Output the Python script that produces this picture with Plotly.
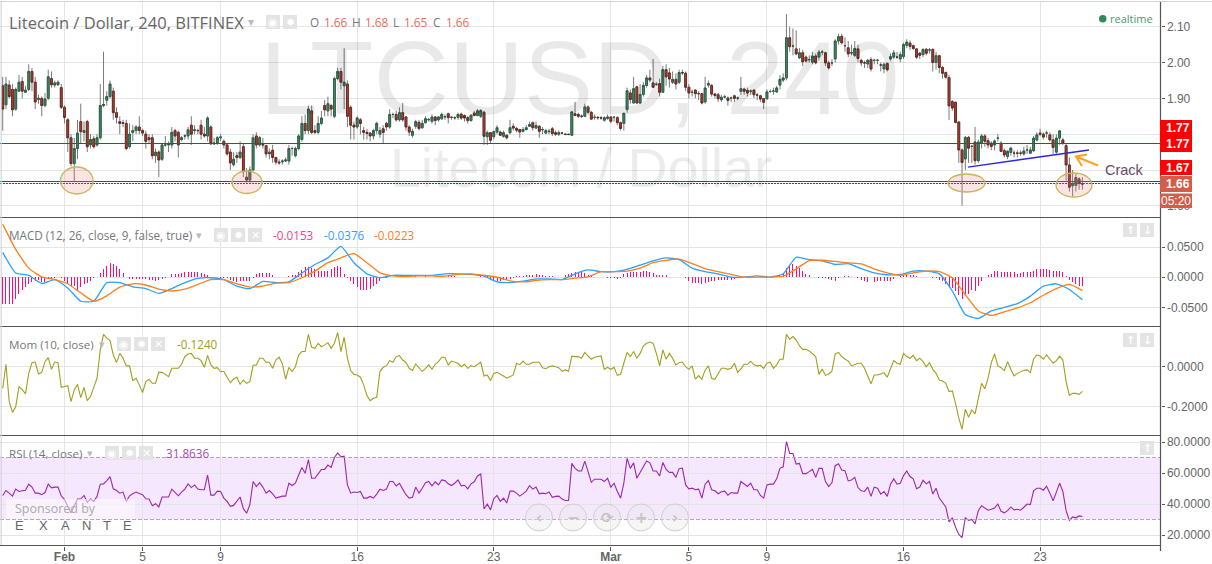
import pandas as pd
import plotly.graph_objects as go

W, H = 1212, 564

dates = pd.date_range("2015-01-28 20:00", periods=333, freq="4h").strftime("%Y-%m-%d %H:%M").tolist()

opens = [
1.935,1.882,1.937,1.925,1.870,1.920,1.947,1.917,1.925,1.975,
1.945,1.897,1.900,1.880,1.900,1.955,1.937,1.938,1.930,1.875,
1.840,1.790,1.718,1.760,1.835,1.805,1.835,1.770,1.787,1.770,
1.790,1.880,1.895,1.905,1.920,1.860,1.835,1.832,1.830,1.765,
1.805,1.810,1.820,1.810,1.800,1.790,1.790,1.740,1.750,1.730,
1.770,1.770,1.770,1.810,1.805,1.785,1.795,1.795,1.825,1.810,
1.810,1.825,1.800,1.795,1.820,1.773,1.775,1.790,1.780,1.770,
1.750,1.715,1.740,1.735,1.765,1.680,1.672,1.700,1.795,1.770,
1.772,1.768,1.745,1.755,1.735,1.722,1.723,1.725,1.725,1.760,
1.740,1.760,1.785,1.830,1.810,1.865,1.810,1.805,1.830,1.880,
1.865,1.880,1.850,1.955,1.975,1.935,1.940,1.875,1.825,1.820,
1.840,1.810,1.805,1.803,1.795,1.810,1.800,1.815,1.830,1.820,
1.855,1.855,1.840,1.860,1.848,1.820,1.797,1.822,1.833,1.818,
1.832,1.840,1.836,1.848,1.840,1.843,1.848,1.857,1.847,1.846,
1.847,1.856,1.852,1.846,1.838,1.859,1.852,1.850,1.861,1.793,
1.804,1.793,1.806,1.806,1.794,1.797,1.804,1.822,1.816,1.813,
1.808,1.813,1.822,1.832,1.817,1.822,1.812,1.803,1.807,1.815,
1.804,1.800,1.803,1.800,1.800,1.797,1.857,1.855,1.850,1.850,
1.876,1.861,1.847,1.847,1.846,1.839,1.844,1.848,1.847,1.846,
1.832,1.830,1.869,1.915,1.887,1.932,1.887,1.911,1.936,1.957,
1.943,1.939,1.941,1.917,1.980,1.971,1.945,1.953,1.945,1.972,
1.970,1.931,1.917,1.923,1.913,1.913,1.890,1.937,1.936,1.912,
1.910,1.896,1.904,1.901,1.901,1.907,1.901,1.919,1.926,1.922,
1.920,1.923,1.909,1.907,1.899,1.899,1.919,1.920,1.918,1.937,
1.951,1.957,2.069,2.046,2.038,2.013,2.027,2.015,2.008,2.001,
2.018,2.015,2.029,2.027,1.999,1.999,2.010,2.060,2.073,2.047,
2.041,2.027,2.020,2.038,2.006,1.999,1.996,2.008,2.006,2.006,
1.993,1.982,1.997,2.010,2.015,2.015,2.010,2.017,2.048,2.054,
2.047,2.038,2.026,2.022,2.037,2.035,2.036,2.000,2.019,1.986,
1.972,1.958,1.891,1.889,1.834,1.756,1.731,1.791,1.766,1.778,
1.726,1.775,1.795,1.782,1.775,1.770,1.789,1.775,1.754,1.738,
1.749,1.747,1.747,1.747,1.745,1.756,1.747,1.754,1.784,1.803,
1.800,1.803,1.798,1.784,1.750,1.789,1.784,1.768,1.714,1.656,
1.657,1.675,1.661]

closes = [
1.870,1.940,1.905,1.868,1.925,1.945,1.920,1.923,1.975,1.945,
1.890,1.900,1.880,1.898,1.960,1.938,1.943,1.945,1.875,1.847,
1.790,1.718,1.760,1.803,1.807,1.810,1.765,1.785,1.765,1.790,
1.880,1.883,1.905,1.940,1.860,1.847,1.830,1.830,1.760,1.800,
1.810,1.820,1.810,1.803,1.780,1.785,1.740,1.750,1.728,1.770,
1.770,1.772,1.805,1.795,1.770,1.790,1.795,1.812,1.800,1.812,
1.810,1.800,1.795,1.845,1.773,1.775,1.790,1.792,1.770,1.745,
1.720,1.730,1.735,1.750,1.695,1.672,1.700,1.790,1.770,1.790,
1.770,1.745,1.750,1.735,1.722,1.720,1.725,1.728,1.760,1.760,
1.760,1.795,1.830,1.810,1.870,1.805,1.805,1.830,1.845,1.868,
1.885,1.870,1.955,1.975,1.945,1.945,1.850,1.825,1.820,1.845,
1.830,1.805,1.802,1.795,1.810,1.830,1.810,1.805,1.820,1.855,
1.855,1.840,1.860,1.840,1.820,1.806,1.808,1.835,1.816,1.830,
1.843,1.841,1.848,1.838,1.848,1.855,1.849,1.846,1.847,1.846,
1.855,1.845,1.845,1.838,1.853,1.852,1.865,1.866,1.794,1.804,
1.783,1.807,1.818,1.797,1.804,1.790,1.818,1.817,1.811,1.806,
1.813,1.818,1.827,1.818,1.824,1.808,1.813,1.810,1.808,1.802,
1.800,1.804,1.803,1.799,1.799,1.862,1.852,1.850,1.850,1.876,
1.861,1.842,1.847,1.846,1.845,1.846,1.848,1.836,1.847,1.832,
1.816,1.858,1.921,1.897,1.927,1.887,1.911,1.936,1.957,1.951,
1.931,1.939,1.917,1.980,1.960,1.954,1.953,1.940,1.972,1.971,
1.931,1.915,1.917,1.913,1.913,1.887,1.929,1.941,1.912,1.908,
1.899,1.903,1.904,1.894,1.901,1.900,1.901,1.927,1.920,1.915,
1.920,1.910,1.909,1.898,1.889,1.918,1.919,1.920,1.929,1.953,
1.957,2.069,2.044,2.046,2.024,2.027,2.002,2.004,2.008,2.018,
1.999,2.029,2.029,1.999,1.985,1.999,2.060,2.072,2.055,2.047,
2.024,2.027,2.039,2.011,1.999,1.999,2.006,1.982,2.006,2.006,
1.993,1.995,1.980,2.016,2.027,2.015,2.022,2.050,2.057,2.045,
2.039,2.015,2.020,2.036,2.026,2.035,2.000,2.019,1.986,1.970,
1.959,1.879,1.873,1.833,1.756,1.721,1.791,1.761,1.766,1.726,
1.778,1.795,1.780,1.770,1.766,1.781,1.789,1.752,1.742,1.752,
1.761,1.747,1.747,1.747,1.753,1.756,1.756,1.789,1.798,1.800,
1.792,1.803,1.784,1.763,1.789,1.809,1.775,1.714,1.652,1.663,
1.679,1.663,1.661]

highs = [
1.960,1.960,1.950,1.940,1.930,1.965,1.960,1.935,1.995,1.985,
1.960,1.910,1.905,1.915,1.980,1.975,1.950,1.950,1.940,1.880,
1.845,1.800,1.790,1.840,1.885,1.835,1.840,1.800,1.795,1.800,
1.940,2.030,1.920,1.950,1.930,1.875,1.850,1.840,1.840,1.830,
1.825,1.825,1.850,1.815,1.810,1.800,1.800,1.760,1.755,1.775,
1.795,1.780,1.820,1.815,1.810,1.795,1.800,1.820,1.850,1.825,
1.815,1.840,1.820,1.850,1.825,1.790,1.795,1.800,1.785,1.775,
1.760,1.750,1.750,1.780,1.775,1.705,1.710,1.800,1.805,1.795,
1.790,1.770,1.760,1.770,1.735,1.730,1.730,1.735,1.770,1.765,
1.765,1.800,1.850,1.855,1.880,1.880,1.825,1.850,1.865,1.895,
1.905,1.885,1.960,1.985,1.985,2.040,1.950,1.880,1.835,1.850,
1.845,1.820,1.815,1.805,1.815,1.835,1.820,1.825,1.835,1.870,
1.860,1.865,1.875,1.887,1.850,1.825,1.815,1.840,1.840,1.840,
1.850,1.845,1.855,1.850,1.850,1.860,1.855,1.860,1.850,1.850,
1.860,1.860,1.855,1.850,1.855,1.865,1.870,1.870,1.865,1.810,
1.806,1.810,1.825,1.810,1.810,1.800,1.840,1.830,1.820,1.815,
1.820,1.825,1.835,1.835,1.835,1.825,1.820,1.815,1.815,1.820,
1.810,1.810,1.805,1.803,1.800,1.865,1.890,1.860,1.855,1.885,
1.880,1.865,1.855,1.850,1.850,1.850,1.855,1.850,1.850,1.850,
1.835,1.860,1.930,1.925,1.960,1.935,1.940,1.945,1.965,1.980,
2.010,1.945,1.955,1.990,1.995,1.985,1.975,1.970,1.980,1.980,
1.975,1.940,1.925,1.925,1.920,1.915,1.960,1.950,1.940,1.915,
1.915,1.910,1.910,1.905,1.905,1.910,1.905,1.960,1.930,1.930,
1.925,1.925,1.915,1.910,1.900,1.925,1.925,1.930,1.935,1.965,
1.970,2.135,2.100,2.095,2.090,2.040,2.035,2.020,2.020,2.030,
2.025,2.035,2.035,2.030,2.005,2.010,2.065,2.080,2.080,2.070,
2.060,2.050,2.060,2.050,2.010,2.005,2.010,2.015,2.010,2.010,
2.000,2.000,2.000,2.025,2.035,2.030,2.030,2.055,2.065,2.062,
2.050,2.040,2.030,2.040,2.040,2.040,2.040,2.030,2.020,1.990,
1.975,1.965,1.895,1.890,1.835,1.760,1.795,1.795,1.770,1.820,
1.785,1.800,1.800,1.790,1.780,1.785,1.800,1.780,1.760,1.755,
1.765,1.755,1.755,1.755,1.765,1.770,1.765,1.795,1.805,1.815,
1.805,1.810,1.805,1.800,1.800,1.812,1.790,1.775,1.735,1.700,
1.690,1.680,1.680]

lows = [
1.810,1.870,1.900,1.850,1.865,1.920,1.900,1.915,1.920,1.920,
1.870,1.885,1.850,1.875,1.895,1.930,1.930,1.935,1.870,1.830,
1.750,1.710,1.668,1.730,1.775,1.780,1.750,1.760,1.760,1.765,
1.785,1.875,1.880,1.900,1.840,1.830,1.800,1.820,1.755,1.760,
1.780,1.800,1.800,1.795,1.760,1.775,1.730,1.720,1.680,1.725,
1.765,1.750,1.760,1.780,1.735,1.780,1.785,1.785,1.770,1.800,
1.800,1.785,1.790,1.780,1.770,1.770,1.770,1.780,1.760,1.740,
1.700,1.710,1.720,1.730,1.680,1.665,1.665,1.700,1.760,1.765,
1.760,1.735,1.730,1.720,1.715,1.715,1.715,1.722,1.715,1.740,
1.735,1.755,1.780,1.800,1.800,1.800,1.800,1.800,1.825,1.850,
1.850,1.850,1.845,1.950,1.925,1.870,1.820,1.785,1.785,1.815,
1.800,1.785,1.785,1.780,1.785,1.800,1.790,1.775,1.810,1.815,
1.845,1.835,1.835,1.835,1.810,1.795,1.790,1.815,1.810,1.815,
1.830,1.835,1.830,1.825,1.835,1.840,1.840,1.830,1.840,1.840,
1.840,1.840,1.835,1.830,1.835,1.850,1.850,1.845,1.770,1.770,
1.775,1.785,1.800,1.795,1.790,1.785,1.800,1.810,1.805,1.790,
1.805,1.810,1.820,1.810,1.815,1.790,1.800,1.800,1.800,1.795,
1.795,1.795,1.800,1.797,1.797,1.795,1.850,1.845,1.845,1.848,
1.855,1.840,1.840,1.840,1.840,1.835,1.840,1.830,1.835,1.825,
1.810,1.810,1.860,1.885,1.885,1.885,1.885,1.905,1.930,1.945,
1.930,1.935,1.905,1.915,1.935,1.930,1.940,1.925,1.940,1.965,
1.920,1.900,1.905,1.900,1.895,1.883,1.885,1.930,1.905,1.900,
1.890,1.890,1.900,1.880,1.890,1.890,1.895,1.910,1.910,1.905,
1.910,1.900,1.895,1.890,1.870,1.895,1.915,1.910,1.915,1.925,
1.945,1.950,2.030,2.020,2.020,2.010,1.990,2.000,2.000,1.995,
1.995,2.005,2.020,1.990,1.980,1.990,2.000,2.050,2.050,2.030,
2.015,2.020,2.015,2.000,1.990,1.985,1.985,1.975,1.995,1.995,
1.975,1.970,1.975,2.005,2.010,2.010,2.000,2.010,2.040,2.035,
2.035,2.010,2.010,2.015,2.020,2.025,1.975,1.980,1.970,1.955,
1.955,1.840,1.865,1.830,1.720,1.600,1.700,1.720,1.720,1.715,
1.720,1.760,1.765,1.760,1.755,1.755,1.780,1.750,1.735,1.730,
1.740,1.735,1.735,1.740,1.740,1.745,1.745,1.750,1.780,1.795,
1.785,1.790,1.780,1.745,1.745,1.770,1.770,1.670,1.640,1.626,
1.640,1.645,1.645]

price_ticks = [1.6, 1.7, 1.8, 1.9, 2.0, 2.1]
price_levels = [1.77396, 1.6679]
price_dotted = [1.66232]
support_line_prices = [1.708, 1.756]

macd_hist = [
-.044,-.044,-.045,-.045,-.037,-.028,-.022,-.017,-.011,-.008,
-.006,-.004,-.008,-.008,-.003,-.003,-.002,.001,-.002,-.006,
-.011,-.015,-.015,-.023,-.017,-.012,-.010,-.007,-.001,.001,
.007,.014,.019,.023,.021,.018,.014,.007,0,-.003,
-.003,-.003,-.003,-.003,-.003,-.004,-.004,-.006,-.004,-.003,
-.002,0,.006,.006,.006,.007,.008,.009,.009,.009,
.008,.007,.006,.003,.001,.001,.001,-.001,-.002,-.002,
-.004,-.006,-.008,-.007,-.006,-.006,-.007,-.001,.006,.007,
.007,.007,.007,.004,.001,0,0,.001,.002,.003,
.004,.008,.012,.017,.017,.015,.014,.011,.011,.011,
.011,.014,.017,.018,.017,.006,-.002,-.006,-.011,-.017,
-.021,-.022,-.021,-.019,-.015,-.011,-.007,-.001,-.001,0,
.001,.001,.001,.001,.001,.002,.001,.002,.001,.001,
.002,.001,.001,.002,.001,.001,.002,.003,.002,.002,
.001,.001,.001,0,0,0,0,.002,.002,.002,
-.004,-.007,-.007,-.007,-.005,-.004,-.003,-.001,.002,.002,
.002,.003,.003,.003,.005,.003,.003,.002,.002,.002,
0,0,0,.004,.005,.007,.008,.009,.008,.007,
.003,.002,.001,.001,0,0,-.001,-.001,-.002,-.003,
-.002,.005,.007,.009,.008,.008,.009,.011,.011,.008,
.007,.003,.004,.004,.003,.001,.001,0,0,0,
-.002,-.007,-.009,-.009,-.010,-.011,-.009,-.008,-.007,-.006,
-.005,-.005,-.004,-.005,-.005,-.003,-.002,-.001,0,0,
0,0,0,0,0,0,0,0,.001,.003,
.007,.016,.019,.021,.018,.015,.011,.006,.003,.001,
.001,-.001,-.001,-.002,-.003,-.005,-.006,-.002,.001,.002,
.002,.001,0,-.002,-.005,-.007,-.008,-.009,-.008,-.007,
-.007,-.007,-.007,-.007,-.003,0,.003,.004,.004,.004,
.004,.002,.001,.001,0,0,-.001,-.002,-.004,-.007,
-.011,-.015,-.018,-.023,-.030,-.036,-.030,-.028,-.022,-.023,
-.014,-.007,0,.003,.006,.010,.011,.008,.008,.008,
.008,.008,.006,.007,.008,.008,.009,.011,.014,.014,
.014,.014,.012,.010,.010,.010,.008,.002,-.004,-.008,
-.011,-.014,-.0153]

macd_line = [
.041,.007,.003,-.0105,-.004,-.018,-.040,-.040,-.009,-.009,
-.016,-.019,-.027,-.019,-.009,-.002,-.001,-.004,-.015,-.019,
-.007,-.009,-.008,.007,.021,.032,.051,.024,.0055,-.001,
.003,.003,.003,.003,.0055,.0055,.0045,.0016,-.0077,-.009,
-.0066,-.003,-.003,-.004,.0055,.012,.009,.009,.013,.020,
.027,.032,.029,.015,.009,.0055,0,0,.002,0,
.0055,.033,.029,.027,.021,.0225,.014,.007,.004,.0044,
.010,.010,.0055,-.023,-.062,-.0685,-.056,-.050,-.044,-.0315,
-.015,-.011,-.0205,-.0376]

macd_signal = [
.088,.046,.015,.0005,-.004,-.011,-.026,-.040,-.031,-.0165,
-.011,-.013,-.020,-.023,-.020,-.012,-.004,-.004,-.011,-.0165,
-.015,-.010,-.009,-.001,.010,.024,.032,.039,.024,.007,
.002,.001,.002,.002,.0015,.0045,.0055,.003,0,-.006,
-.008,-.0055,-.004,-.004,-.0016,.0005,.009,.009,.010,.015,
.024,.028,.030,.0225,.014,.009,.0045,0,0,0,
.0016,.0137,.0275,.028,.026,.0236,.022,.0137,.007,.003,
.007,.010,.009,-.001,-.029,-.056,-.0635,-.0575,-.051,-.0425,
-.030,-.019,-.012,-.0223]

momentum = [
-.109,.010,-.175,-.228,-.200,-.101,-.114,-.137,-.035,.018,
.021,-.038,-.030,.023,.043,-.015,.021,.018,-.104,-.101,
-.096,-.175,-.117,-.089,-.155,-.104,-.170,-.150,-.101,-.059,
.081,.158,.139,.127,.056,.018,.064,.040,.002,.002,
-.071,-.059,-.092,-.130,-.076,-.064,-.084,-.084,-.030,-.030,
-.040,-.051,-.010,-.010,-.010,.010,.048,.061,.064,.040,
.040,.028,-.005,.054,.007,-.010,-.007,-.026,-.026,-.054,
-.081,-.063,-.054,-.089,-.068,-.084,-.076,.005,.007,.040,
.040,.020,.020,-.010,.031,.045,.012,-.063,-.005,-.026,
-.002,.056,.073,.073,.158,.094,.089,.114,.097,.106,
.117,.089,.114,.167,.073,.144,.040,-.021,-.040,-.043,
-.054,-.092,-.145,-.170,-.158,-.153,-.026,-.005,.003,.028,
.020,.048,.053,.031,.020,-.010,-.021,.012,-.007,-.026,
-.010,.007,-.015,.010,.023,.045,.045,.007,.026,.020,
.015,-.002,.010,-.010,.003,-.002,.007,.020,-.048,-.043,
-.071,-.035,-.030,-.038,-.048,-.059,-.051,-.043,.015,.008,
.026,.010,.010,.020,.020,.020,-.007,-.012,-.002,.002,
-.002,-.007,-.025,-.018,-.025,.050,.048,.048,.040,.069,
.051,.035,.045,.048,
.051,-.015,-.005,-.015,-.005,-.045,-.040,.015,.069,.048,
.073,.040,.064,.101,.114,.120,.114,.064,.002,.081,
.035,.064,.040,.007,.018,.021,-.002,-.015,.002,-.063,
-.046,-.064,-.018,.002,-.059,-.064,-.035,-.010,-.010,-.015,
-.010,.015,-.030,-.013,.010,.010,.025,.007,.002,.005,
-.010,.015,.020,-.010,.007,.035,.035,.158,.134,.147,
.130,.102,.084,.084,.076,.061,.048,-.040,-.013,-.045,
-.038,-.023,.061,.069,.048,.036,.026,.002,.010,.015,
.015,-.010,-.048,-.087,-.043,-.043,-.038,-.031,-.054,-.010,
.028,.015,.010,.064,.048,.040,.054,.028,.040,.023,
-.002,.018,-.015,-.035,-.068,-.073,-.084,-.125,-.122,-.183,
-.257,-.312,-.213,-.252,-.216,-.236,-.167,-.084,-.111,-.059,
.018,.061,.002,-.007,-.021,.023,-.015,-.048,-.035,-.026,
-.020,-.018,-.031,.036,.056,.051,.035,.056,.036,.015,
.028,.050,.031,-.076,-.144,-.134,-.134,-.139,-.124]

rsi = [
45.5,48.7,47,45.1,49.6,48.1,48.5,48.9,52.8,50.9,
47,47,46,47.4,52.8,50.4,50.9,50.9,45.3,42.8,
38.5,34.3,38.9,43.2,43.2,45.5,41.1,43.2,41.7,44.9,
52.8,53,55.1,57.7,49.8,48.7,47,47.7,41.7,45.3,
46.6,47.7,46.8,46,43.4,43.2,38.9,40.2,38.1,44.5,
44.5,44.5,49.6,47.7,45.3,47.7,49.6,53,50.6,52.3,
49.6,49.2,49.2,58.7,45.7,45.7,48.3,48.1,43.8,41.7,
38.5,39.1,41.7,44.5,37,34,39.6,54.5,51.3,53.8,
50.9,47,48.7,46.6,43.8,44.3,45.1,45.1,53.4,51.9,
53.4,58.7,63.6,59.8,68.7,56.6,56.6,59.4,62.3,62.3,
65.1,63.6,70,73,70.4,70.9,52.3,47,47.7,47.4,
48.1,43.8,43.8,44.9,43.8,46.4,49.6,48.7,49.6,54.5,
54.5,51.7,53.4,49.6,46,43.8,44.3,50.9,47,50.2,
53.8,54.5,51.7,54.3,52.3,55.5,55.1,53,51.9,53.4,
55.5,51.7,52.1,49.8,53,54.3,58.1,59.4,36.8,40,
36.2,43.4,45.5,41.7,43.8,40.6,48.3,48.3,47,45.1,
47,48.3,51.9,49.6,50.9,46.6,47,46.6,47.7,44.3,
44.9,45.1,43.2,42.3,42.3,66.2,63,61.3,61.3,67.7,
60.9,54,56,56,56,54.5,56.6,50.9,53.4,48.1,
43.8,53.4,69.4,63,66.6,56.6,60.4,64,67.7,66.6,
61.3,61.3,58.1,66.8,62.3,60.4,60.4,57.2,62.8,63.2,
52.3,49.8,50.2,49.2,49.6,43.8,52.8,55.1,49.2,48.5,
46.6,47.9,48.3,45.7,47.4,47,47,54.5,52.8,51.3,
53.4,49.2,49.2,45.5,43.8,52.3,52.8,52.8,56.2,63,
64,80.2,72.6,72.6,65.7,66.2,59.6,59.6,60.9,62.3,
57.2,63,63,54.5,51.3,53.8,64.7,66,61.9,61.5,
54.9,55.5,57.2,50.6,48.5,48.1,50.9,44.9,50.9,50.2,
46.4,48.1,44.9,52.8,56.2,52.8,53.4,58.3,61.3,57.7,
56.2,49.8,50.9,55.3,53,54.5,46.4,50.2,43.8,40.6,
38.1,28.5,31.1,25.1,20.4,18.3,31.1,29.4,30,27.2,
35.7,38.9,37.4,36,36.6,37.4,40,35.3,34.3,35.7,
38.1,36.2,36.6,36,37.9,40,39.6,48.5,50.2,50.2,
48.9,51.5,47,42.1,47.7,53.4,48.1,35.7,29.4,31.7,
31.1,32.3,31.9]

x_tick_dates = ["2015-02-01","2015-02-05","2015-02-09","2015-02-16","2015-02-23",
                "2015-03-01","2015-03-05","2015-03-09","2015-03-16","2015-03-23"]
x_tick_text = ["<b>Feb</b>","5","9","16","23","<b>Mar</b>","5","9","16","23"]
macd_ticks = [-0.05, 0, 0.05]
macd_tick_text = ["-0.0500","0.0000","0.0500"]
mom_ticks = [-0.2, 0]
mom_tick_text = ["-0.2000","0.0000"]
rsi_ticks = [20, 40, 60, 80]
rsi_tick_text = ["20.0000","40.0000","60.0000","80.0000"]
rsi_band = [30, 70]

for name, arr in dict(o=opens, c=closes, h=highs, l=lows, hist=macd_hist, mom=momentum, rsi=rsi).items():
    assert len(arr) == 333, (name, len(arr))
assert len(macd_line) == len(macd_signal) == 84, (len(macd_line), len(macd_signal))

highs = [max(a, b, c) for a, b, c in zip(highs, opens, closes)]
lows = [min(a, b, c) for a, b, c in zip(lows, opens, closes)]
body_hi = [max(a, b) for a, b in zip(opens, closes)]
body_lo = [min(a, b) for a, b in zip(opens, closes)]

RIGHT = 1160.5
PANES = [2, 217.5, 326.5, 435.5, 545.5]
FONT = "Liberation Sans"
TITLE_FONT = "Open Sans"


def X(px):
    return px / W


def Y(py):
    return 1 - py / H


def lin_range(top_px, bot_px, v1, y1, v2, y2):
    k = (v2 - v1) / (y2 - y1)
    return [v1 + (bot_px - y1) * k, v1 + (top_px - y1) * k]


feb1 = pd.Timestamp("2015-02-01")
bar = pd.Timedelta(hours=4)
PX_PER_BAR = 3.252
x_start = feb1 + bar * ((0 - 64.5) / PX_PER_BAR)
x_end = feb1 + bar * ((RIGHT - 64.5) / PX_PER_BAR)

fig = go.Figure()

UP_F, UP_L = "#3f8f66", "#2a5c45"
DN_F, DN_L = "#c8392b", "#5c2a22"

fig.add_trace(go.Candlestick(
    x=dates, open=opens, high=highs, low=lows, close=closes, yaxis="y",
    increasing=dict(line=dict(color="#7a7a7a", width=1), fillcolor="#7a7a7a"),
    decreasing=dict(line=dict(color="#7a7a7a", width=1), fillcolor="#7a7a7a"),
    hoverinfo="skip", showlegend=False))
fig.add_trace(go.Candlestick(
    x=dates, open=opens, high=body_hi, low=body_lo, close=closes, yaxis="y",
    increasing=dict(line=dict(color=UP_L, width=0.9), fillcolor=UP_F),
    decreasing=dict(line=dict(color=DN_L, width=0.9), fillcolor=DN_F),
    hoverinfo="skip", showlegend=False))

fig.add_trace(go.Bar(x=dates, y=macd_hist, yaxis="y2", marker=dict(color="#ff0a78", line=dict(width=0)),
                     width=4400000, showlegend=False, hoverinfo="skip"))
fig.add_trace(go.Scatter(x=dates[::4], y=macd_line, yaxis="y2", mode="lines",
                         line=dict(color="#2aa0ff", width=1.3, shape="spline", smoothing=0.5),
                         showlegend=False, hoverinfo="skip"))
fig.add_trace(go.Scatter(x=dates[::4], y=macd_signal, yaxis="y2", mode="lines",
                         line=dict(color="#ff7f1a", width=1.3, shape="spline", smoothing=0.5),
                         showlegend=False, hoverinfo="skip"))
fig.add_trace(go.Scatter(x=dates, y=momentum, yaxis="y3", mode="lines",
                         line=dict(color="#a0a01e", width=1.1), showlegend=False, hoverinfo="skip"))
fig.add_trace(go.Scatter(x=dates, y=rsi, yaxis="y4", mode="lines",
                         line=dict(color="#9c27b0", width=1.1), showlegend=False, hoverinfo="skip"))

GRID = "#e4e4e4"
AXIS = "#555555"


def yax(pane, rng, vals, text):
    return dict(domain=[Y(PANES[pane + 1]), Y(PANES[pane])], range=rng, side="right", anchor="x",
                tickmode="array", tickvals=vals, ticktext=text, showgrid=True, gridcolor=GRID, gridwidth=1,
                zeroline=False, ticks="outside", ticklen=3, tickcolor=AXIS, showline=False, automargin=False,
                tickfont=dict(family=FONT, size=12, color="#666666"), fixedrange=True)


shapes, anns = [], []


def rect(x0, y0, x1, y1, fill, line=None, width=0, kind="rect", layer="above"):
    shapes.append(dict(type=kind, xref="paper", yref="paper", x0=X(x0), x1=X(x1), y0=Y(y0), y1=Y(y1),
                       fillcolor=fill, line=dict(color=line or "rgba(0,0,0,0)", width=width), layer=layer))


def seg(x0, y0, x1, y1, color, width=1, dash="solid"):
    shapes.append(dict(type="line", xref="paper", yref="paper", x0=X(x0), x1=X(x1), y0=Y(y0), y1=Y(y1),
                       line=dict(color=color, width=width, dash=dash), layer="above"))


def text(x, y, s, size=12, color="#666666", anchor="left", family=FONT):
    dx = -1.5 if anchor == "left" else 0
    anns.append(dict(xref="paper", yref="paper", x=X(x + dx), y=Y(y), text=s, showarrow=False, xanchor=anchor,
                     yanchor="middle", borderpad=0, font=dict(family=family, size=size, color=color)))


# watermark
text(580, 78, "LTCUSD, 240", 104, "rgba(0,0,0,0.085)", "center")
text(581, 168, "Litecoin / Dollar", 55.5, "rgba(0,0,0,0.075)", "center")

# RSI band
shapes.append(dict(type="rect", xref="paper", yref="y4", x0=0, x1=X(RIGHT), y0=rsi_band[0], y1=rsi_band[1],
                   fillcolor="#f5e7fd", line=dict(width=0), layer="below"))
for v in rsi_band:
    shapes.append(dict(type="line", xref="paper", yref="y4", x0=0, x1=X(RIGHT), y0=v, y1=v,
                       line=dict(color="#b5a6bc", width=1, dash="4px,2px"), layer="above"))

# price levels
for v in price_levels:
    shapes.append(dict(type="line", xref="paper", yref="y", x0=0, x1=X(RIGHT), y0=v, y1=v,
                       line=dict(color="#dd0d0d", width=1), layer="above"))
for v in price_dotted:
    shapes.append(dict(type="line", xref="paper", yref="y", x0=0, x1=X(RIGHT), y0=v, y1=v,
                       line=dict(color="#dd0d0d", width=1, dash="2px,1px"), layer="above"))

# support-line drawing
shapes.append(dict(type="line", xref="paper", yref="y", x0=X(968), x1=X(1089),
                   y0=support_line_prices[0], y1=support_line_prices[1],
                   line=dict(color="#2626e6", width=1.5), layer="above"))

# ellipses
for x0, y0, x1, y1 in [(60.5, 167, 93, 194), (232, 171, 262, 193.5), (948, 174, 985, 192), (1056, 173, 1092, 197)]:
    rect(x0, y0, x1, y1, "rgba(236,120,120,0.2)", "#c8b65c", 1.3, kind="circle")

# crack arrow (pixel path in paper coordinates)
shapes.append(dict(type="path", xref="paper", yref="paper",
                   path=f"M {X(1098)},{Y(165.5)} L {X(1076)},{Y(156.5)} M {X(1087)},{Y(154.5)} L {X(1076)},{Y(156.5)} L {X(1082)},{Y(166)}",
                   line=dict(color="#ffa21a", width=2), layer="above"))
text(1105, 170, "Crack", 14.5, "#6a4a6a")

# pane frame
for y in PANES[1:]:
    seg(0, y, RIGHT, y, AXIS, 1.2)
seg(RIGHT, 1, RIGHT, 551, AXIS, 1.2)
seg(0, 1.5, W, 1.5, "#d4d4dc", 1.2)
seg(1.2, 1, 1.2, 545, "#d4d4dc", 1.2)

# price tags
rect(1160, 120, 1192, 152, "#ff0000")
rect(1160, 160, 1192, 175, "#ff0000")
rect(1160, 176, 1192, 192, "#d45c48")
rect(1160, 193.5, 1192, 208, "#d45c48")
for y, s in [(128, "1.77"), (144, "1.77"), (168, "1.67"), (184, "1.66")]:
    text(1166, y, f"<b>{s}</b>", 12, "#ffffff")
text(1161, 201, "05:20", 12, "#ffffff")

# main legend
text(9, 22, "Litecoin / Dollar, 240, BITFINEX", 16.5, "#666666", family=TITLE_FONT)
text(251, 22, "▾", 12, "#bbbbbb", "center", "DejaVu Sans")
BOX = "#e4e4e4"


def icon_boxes(xs, y, glyphs):
    for x, g in zip(xs, glyphs):
        rect(x, y - 7, x + 14, y + 7, BOX)
        text(x + 7, y, g, 11, "#ffffff", "center", "DejaVu Sans")


icon_boxes([266, 283], 22, ["◉", "✹"])
for x, s, c in [(310, "O", "#777777"), (324, "1.66", "#f0695a"), (352, "H", "#777777"), (365, "1.68", "#f0695a"),
                (393, "L", "#777777"), (404, "1.65", "#f0695a"), (433, "C", "#777777"), (446, "1.66", "#f0695a")]:
    text(x, 22, s, 11.8, c, family=TITLE_FONT)
rect(1099, 15, 1106.5, 22.5, "#2e8b57", kind="circle")
text(1110, 19, "realtime", 11, "#4a9a74", family=TITLE_FONT)

# MACD legend
text(9, 235, "MACD (12, 26, close, 9, false, true)", 11.7, "#777777", family=TITLE_FONT)
text(199, 235, "▾", 11, "#bbbbbb", "center", "DejaVu Sans")
icon_boxes([214, 231, 248], 235, ["◉", "✹", "✕"])
text(273, 235, "-0.0153", 11.7, "#ff3a8a", family=TITLE_FONT)
text(324, 235, "-0.0376", 11.7, "#2e9fff", family=TITLE_FONT)
text(374, 235, "-0.0223", 11.7, "#ff7a1a", family=TITLE_FONT)

# Mom legend
text(9, 344, "Mom (10, close)", 11.6, "#777777", family=TITLE_FONT)
text(102, 344, "▾", 11, "#bbbbbb", "center", "DejaVu Sans")
icon_boxes([117, 134, 151], 344, ["◉", "✹", "✕"])
text(177, 344, "-0.1240", 11.7, "#a0a01e", family=TITLE_FONT)

# RSI legend
text(9, 453, "RSI (14, close)", 11.6, "#777777", family=TITLE_FONT)
text(90, 453, "▾", 11, "#bbbbbb", "center", "DejaVu Sans")
icon_boxes([105, 122, 139], 453, ["◉", "✹", "✕"])
text(166, 453, "31.8636", 11.7, "#a54cb5", family=TITLE_FONT)

# pane up/down boxes
for y in (230, 340):
    rect(1123, y - 7, 1137, y + 7, BOX)
    rect(1140, y - 7, 1154, y + 7, BOX)
    text(1130, y, "<b>↑</b>", 11, "#ffffff", "center", "DejaVu Sans")
    text(1147, y, "<b>↓</b>", 11, "#ffffff", "center", "DejaVu Sans")
rect(1140, 441, 1154, 455, BOX)
text(1147, 448, "<b>↑</b>", 11, "#ffffff", "center", "DejaVu Sans")

# sponsor
rect(6, 499, 135, 519, "rgba(255,255,255,0.5)")
text(15, 508, "Sponsored by", 12.5, "#a9a9a9", family=TITLE_FONT)
for x, g in zip([15, 39, 61, 82, 103, 123], "EXANTE"):
    text(x, 525.5, g, 13, "#666666")

# nav buttons
for cx, g in [(539, "‹"), (573, "−"), (607, "⟳"), (641, "+"), (675, "›")]:
    rect(cx - 13.5, 504, cx + 13.5, 531, "rgba(235,235,235,0.45)", "#cfcfcf", 1, kind="circle")
    text(cx, 517.5, f"<b>{g}</b>", 15, "#c4c4c4", "center", "DejaVu Sans")

fig.update_layout(
    width=W, height=H, autosize=False, margin=dict(l=0, r=0, t=0, b=0, autoexpand=False),
    paper_bgcolor="#ffffff", plot_bgcolor="#ffffff", showlegend=False,
    boxgap=0.2, bargap=0, dragmode=False, hovermode=False,
    xaxis=dict(domain=[0, X(RIGHT)], type="date", range=[x_start.isoformat(), x_end.isoformat()],
               anchor="y4", tickmode="array", tickvals=x_tick_dates, ticktext=x_tick_text, automargin=False,
               showgrid=True, gridcolor=GRID, gridwidth=1, zeroline=False, ticks="outside", ticklen=4,
               ticklabelstandoff=-4,
               tickcolor=AXIS, tickfont=dict(family=FONT, size=12, color="#666666"),
               rangeslider=dict(visible=False), fixedrange=True),
    yaxis=yax(0, lin_range(PANES[0], PANES[1], 2.0, 62.5, 1.7, 170), price_ticks, [f"{v:.2f}" for v in price_ticks]),
    yaxis2=yax(1, lin_range(PANES[1], PANES[2], 0.05, 247, -0.05, 307.3), macd_ticks, macd_tick_text),
    yaxis3=yax(2, lin_range(PANES[2], PANES[3], 0, 366.3, -0.2, 406.7), mom_ticks, mom_tick_text),
    yaxis4=yax(3, lin_range(PANES[3], PANES[4], 70, 457.5, 30, 519.5), rsi_ticks, rsi_tick_text),
    shapes=shapes, annotations=anns,
)

fig.write_html("out.html", config=dict(displayModeBar=False, staticPlot=True),
               post_script="document.body.style.margin='0';document.documentElement.style.overflow='hidden';")
